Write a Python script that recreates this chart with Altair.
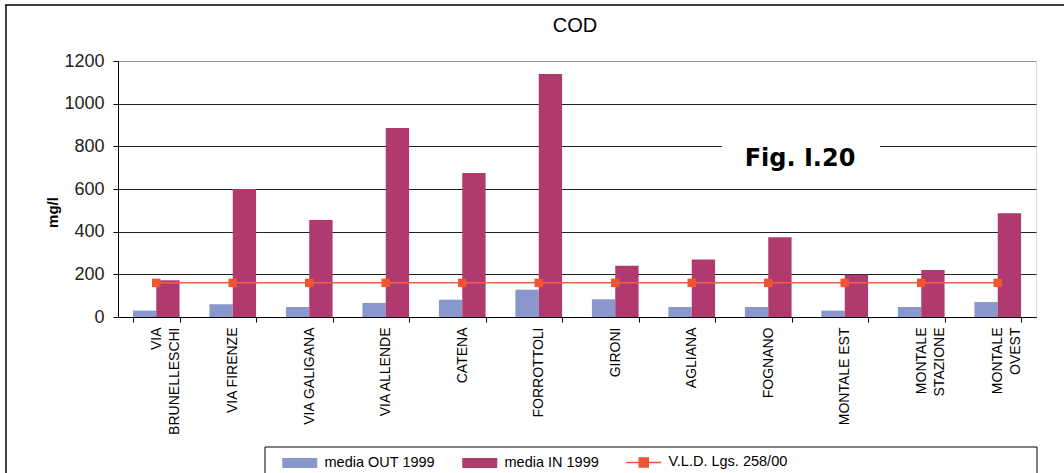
import altair as alt
import pandas as pd

categories = ["VIA\nBRUNELLESCHI", "VIA FIRENZE", "VIA GALIGANA", "VIA ALLENDE", "CATENA",
              "FORROTTOLI", "GIRONI", "AGLIANA", "FOGNANO", "MONTALE EST",
              "MONTALE\nSTAZIONE", "MONTALE\nOVEST"]
media_out = [30, 60, 47, 66, 81, 128, 83, 47, 47, 30, 47, 70]
media_in = [172, 600, 455, 886, 675, 1139, 240, 270, 374, 198, 220, 486]
vld = [160, 160, 160, 160, 160, 160, 160, 160, 160, 160, 160, 160]
y_ticks = [0, 200, 400, 600, 800, 1000, 1200]

TITLE = "COD"
S_OUT = "media OUT 1999"
S_IN = "media IN 1999"
S_VLD = "V.L.D. Lgs. 258/00"

C_OUT = "#8A97CC"
C_IN = "#B03A6F"
C_VLD = "#EE5533"

bars = pd.DataFrame(
    [{"cat": c, "series": S_OUT, "value": v} for c, v in zip(categories, media_out)]
    + [{"cat": c, "series": S_IN, "value": v} for c, v in zip(categories, media_in)]
)
line_df = pd.DataFrame({"cat": categories, "value": vld})

x_enc = alt.X(
    "cat:N", sort=categories, title=None,
    scale=alt.Scale(paddingInner=0.39, paddingOuter=0.195),
    axis=alt.Axis(labelAngle=-90, labelExpr="split(datum.label, '\\n')",
                  labelFont="Liberation Sans", labelFontSize=14, labelColor="black",
                  labelLineHeight=18, labelPadding=5, tickBand="extent", tickSize=5,
                  tickColor="black", domainColor="black", grid=False),
)
y_enc = alt.Y(
    "value:Q", title="mg/l",
    scale=alt.Scale(domain=[0, 1200], nice=False),
    axis=alt.Axis(values=y_ticks, format="d", labelFont="Liberation Sans", labelFontSize=18,
                  labelColor="#222", labelPadding=9, tickSize=5, tickColor="black",
                  domainColor="black", gridColor=alt.expr("datum.value == 1200 ? '#999' : '#222'"),
                  titleFont="Liberation Sans", titleFontSize=15, titleFontWeight="bold",
                  titleColor="black", titleAngle=-90, titleX=-61, titleY=151,
                  titleBaseline="alphabetic", titleAlign="center"),
)

shape_sig = ("datum.value == '" + S_VLD + "' ? 'M0.4,0H7.4M3,-0.9H4.8V0.9H3Z' : "
             "'M0.4,-1H7.4V1H0.4Z'")
legend = alt.Legend(
    title=None, orient="none", legendX=147, legendY=386, direction="horizontal",
    symbolSize=100, labelOffset=37, columnPadding=18, padding=8,
    symbolType=alt.expr(shape_sig),
    symbolStrokeColor=alt.expr("scale('color', datum.value)"),
    symbolStrokeWidth=alt.expr("datum.value == '" + S_VLD + "' ? 1.5 : 0"),
    symbolOpacity=1,
    labelFont="Liberation Sans", labelFontSize=14.5, labelColor="black",
)

bar_layer = alt.Chart(bars).mark_bar(stroke=None, opacity=1).encode(
    x=x_enc,
    y=y_enc,
    xOffset=alt.XOffset("series:N", sort=[S_OUT, S_IN],
                        scale=alt.Scale(domain=[S_OUT, S_IN], paddingInner=0, paddingOuter=0)),
    color=alt.Color("series:N", scale=alt.Scale(domain=[S_OUT, S_IN, S_VLD],
                                                range=[C_OUT, C_IN, C_VLD]),
                    legend=legend),
)

line_layer = alt.Chart(line_df).mark_line(color="#F06040", strokeWidth=1.5).encode(
    x=alt.X("cat:N", sort=categories), y="value:Q")
point_layer = alt.Chart(line_df).mark_square(color=C_VLD, size=72, opacity=1).encode(
    x=alt.X("cat:N", sort=categories), y="value:Q")

one = alt.Data(values=[{}])
frame_top = alt.Chart(one).mark_rule(color="black", strokeWidth=1.5).encode(
    x=alt.value(-113), x2=alt.value(946), y=alt.value(-56))
frame_left = alt.Chart(one).mark_rule(color="black", strokeWidth=1.5).encode(
    x=alt.value(-112), y=alt.value(-56), y2=alt.value(412))
legend_box = alt.Chart(one).mark_rect(fill="white", stroke="black", strokeWidth=1).encode(
    x=alt.value(147), x2=alt.value(919), y=alt.value(386), y2=alt.value(420))
fig_box = alt.Chart(one).mark_rect(color="white").encode(
    x=alt.value(604), x2=alt.value(762), y=alt.value(80), y2=alt.value(119))
fig_text = alt.Chart(one).mark_text(
    text="Fig. I.20", font="DejaVu Sans", fontSize=24, fontWeight="bold",
    color="black", align="center", baseline="middle").encode(
    x=alt.value(682), y=alt.value(98))
title_text = alt.Chart(one).mark_text(
    text=TITLE, font="Liberation Sans", fontSize=20, color="black",
    align="center", baseline="alphabetic").encode(
    x=alt.value(457), y=alt.value(-29))

chart = alt.layer(
    bar_layer, line_layer, point_layer, fig_box, fig_text, title_text,
    frame_top, frame_left, legend_box
).properties(
    width=918, height=256,
    autosize=alt.AutoSizeParams(type="none"),
    padding={"left": 118, "top": 61, "right": 28, "bottom": 156},
).configure_view(
    stroke="#999", strokeWidth=1
).configure(background="white")

chart.save("out.html", embed_options={"renderer": "svg", "actions": False})
